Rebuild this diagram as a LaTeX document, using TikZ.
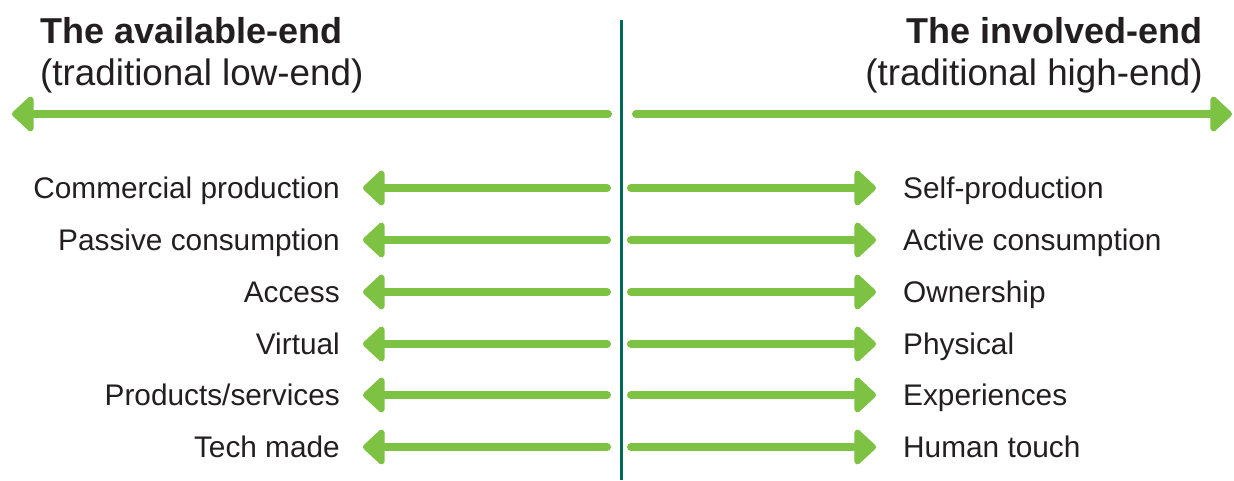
\documentclass[tikz,border=0pt]{standalone}
\usepackage{fontspec}
\setmainfont{Liberation Sans}
\usetikzlibrary{arrows.meta}
\definecolor{arrgreen}{HTML}{7DC242}
\definecolor{teal}{HTML}{00695C}
\definecolor{txt}{HTML}{231F20}
\begin{document}
\begin{tikzpicture}[x=1pt,y=-1pt,
  garrow/.style={draw=arrgreen, line width=8pt, line cap=round,
    -{Triangle[round, length=23pt, width=41pt]}},
  rowlab/.style={font=\fontsize{29.8}{34}\selectfont, inner sep=0pt, text=txt},
  ttl/.style={font=\fontsize{36}{40}\selectfont\bfseries, inner sep=0pt, text=txt},
  sub/.style={font=\fontsize{36.8}{40}\selectfont, inner sep=0pt, text=txt}]
\useasboundingbox (0,0) rectangle (1234,480);
\fill[white] (0,0) rectangle (1234,480);
% divider
\coordinate (vtop) at (621,20);
\coordinate (vbot) at (621,480);
\draw[teal, line width=3pt] (vtop) -- (vbot);
% titles
\node[ttl, anchor=base west] (t1) at (40,43) {The available-end};
\node[sub, anchor=base west] (s1) at (40,85) {(traditional low-end)};
\node[ttl, anchor=base east] (t2) at (1203,43) {The involved-end};
\node[sub, anchor=base east] (s2) at (1203,85) {(traditional high-end)};
% top arrows
\coordinate (la0) at (608,114);
\coordinate (lt0) at (12,114);
\coordinate (ra0) at (636,114);
\coordinate (rt0) at (1232,114);
\draw[garrow] (la0) -- (lt0);
\draw[garrow] (ra0) -- (rt0);
% rows
\foreach \i/\y/\l/\r in {1/188/Commercial production/Self-production,
  2/240/Passive consumption/Active consumption,
  3/292/Access/Ownership,
  4/344/Virtual/Physical,
  5/395/Products\slash services/Experiences,
  6/447/Tech made/Human touch}{
  \node[rowlab, anchor=base east] (L\i) at (340,\y+10) {\l};
  \node[rowlab, anchor=base west] (R\i) at (903,\y+10) {\r};
  \coordinate (ls\i) at (607,\y);
  \coordinate (le\i) at (L\i.east |- ls\i);
  \coordinate (rs\i) at (631,\y);
  \coordinate (re\i) at (R\i.west |- rs\i);
  \draw[garrow, shorten >=23pt] (ls\i) -- (le\i);
  \draw[garrow, shorten >=27pt] (rs\i) -- (re\i);
}
\end{tikzpicture}
\end{document}
